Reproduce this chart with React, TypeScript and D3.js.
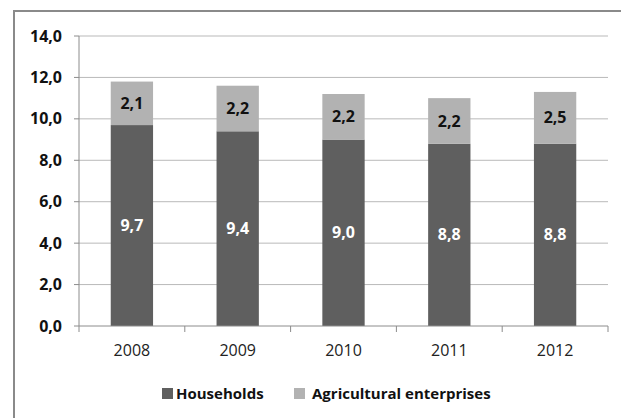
import React from "react";
import * as d3 from "d3";

const years = ["2008", "2009", "2010", "2011", "2012"];
const households = [9.7, 9.4, 9.0, 8.8, 8.8];
const agricultural = [2.1, 2.2, 2.2, 2.2, 2.5];
const yTicks = [0, 2, 4, 6, 8, 10, 12, 14];
const seriesNames = ["Households", "Agricultural enterprises"];

const W = 621;
const H = 418;
const FONT = "'Open Sans', 'DejaVu Sans', sans-serif";
const DARK = "#5f5f5f";
const LIGHT = "#b2b2b2";

export default function App() {
  const left = 79, right = 608, top = 36, bottom = 326;
  const x = d3.scaleBand<string>().domain(years).range([left, right]).paddingInner(0.6).paddingOuter(0.3);
  const xTick = d3.scaleLinear().domain([0, years.length]).range([left, right]);
  const y = d3.scaleLinear().domain([0, 14]).range([bottom, top]);
  const fmt = (v: number) => v.toFixed(1).replace(".", ",");
  const stack = d3.stack<number>().keys(["h", "a"]).value((i, k) => (k === "h" ? households[i] : agricultural[i]));
  const series = stack(years.map((_, i) => i));
  const colors = [DARK, LIGHT];
  const labelColors = ["#ffffff", "#111111"];

  return (
    <svg width={W} height={H} style={{ position: "absolute", left: 0, top: 0, background: "#fff" }}>
      <rect x={14} y={11} width={W + 10} height={H + 10} fill="#fff" stroke="#8a8a8a" strokeWidth={2} />
      {yTicks.map((t) => (
        <g key={t}>
          {t > 0 && <line x1={left} x2={right} y1={y(t)} y2={y(t)} stroke="#b9b9b9" strokeWidth={1} />}
          <line x1={left - 5} x2={left} y1={y(t)} y2={y(t)} stroke="#8c8c8c" strokeWidth={1} />
          <text x={62} y={y(t)} dy="0.35em" textAnchor="end" fontFamily={FONT} fontWeight="bold" fontSize={16} fill="#111">
            {fmt(t)}
          </text>
        </g>
      ))}
      <line x1={left} x2={left} y1={top} y2={bottom} stroke="#8c8c8c" strokeWidth={1} />
      {series.map((s, si) =>
        s.map((d, i) => {
          const x0 = x(years[i])!;
          const y0 = y(d[1]);
          const h = y(d[0]) - y(d[1]);
          const v = si === 0 ? households[i] : agricultural[i];
          return (
            <g key={`${si}-${i}`}>
              <rect x={x0} y={y0} width={x.bandwidth()} height={h} fill={colors[si]} />
              <text x={x0 + x.bandwidth() / 2} y={y0 + h / 2} dy="0.35em" textAnchor="middle" fontFamily={FONT} fontWeight="bold" fontSize={16} fill={labelColors[si]}>
                {fmt(v)}
              </text>
            </g>
          );
        })
      )}
      <line x1={left} x2={right} y1={bottom} y2={bottom} stroke="#8c8c8c" strokeWidth={1} />
      {d3.range(years.length + 1).map((i) => (
        <line key={i} x1={xTick(i)} x2={xTick(i)} y1={bottom} y2={bottom + 6} stroke="#8c8c8c" strokeWidth={1} />
      ))}
      {years.map((yr) => (
        <text key={yr} x={x(yr)! + x.bandwidth() / 2} y={350} dy="0.35em" textAnchor="middle" fontFamily={FONT} fontSize={16} fill="#222">
          {yr}
        </text>
      ))}
      <g>
        <rect x={162} y={388} width={11} height={11} fill={DARK} />
        <text x={176} y={393.5} dy="0.35em" fontFamily={FONT} fontWeight="bold" fontSize={15} fill="#111">{seriesNames[0]}</text>
        <rect x={294} y={388} width={11} height={11} fill={LIGHT} />
        <text x={312} y={393.5} dy="0.35em" fontFamily={FONT} fontWeight="bold" fontSize={15} fill="#111">{seriesNames[1]}</text>
      </g>
    </svg>
  );
}
